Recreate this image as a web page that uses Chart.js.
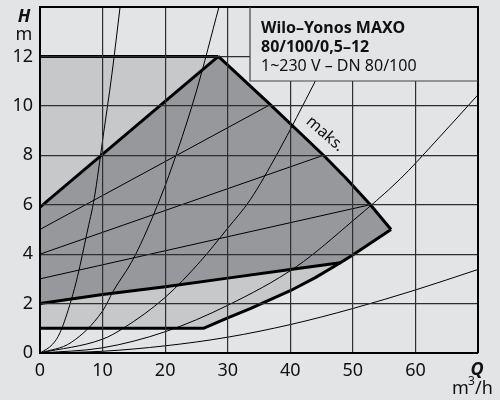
<!DOCTYPE html>
<html>
<head>
<meta charset="utf-8">
<script src="https://cdn.jsdelivr.net/npm/chart.js@4.4.0/dist/chart.umd.min.js"></script>
<style>
  html, body { margin: 0; padding: 0; background: #e3e4e6; }
  canvas { background: #e3e4e6; display: block; }
</style>
</head>
<body>
<canvas id="pumpChart" width="500" height="400"></canvas>
<script>
// Kennlinie Wilo-Yonos MAXO 80/100/0,5-12
const FONT = 'Noto Sans';
const BG = '#e3e4e6';
const GRID = '#2e2e2e';

// Achsenteilung
const Q_TICKS = [0, 10, 20, 30, 40, 50, 60];
const H_TICKS = [0, 2, 4, 6, 8, 10, 12];
const Q_MAX = 70;
const H_MAX = 14;

// Q in m³/h, H in m
const maxQ = [28.5, 36.8, 45.3, 48.8, 52.8, 56.1];
const maxH = [12, 10.05, 8.0, 7.1, 6.0, 5.0];
const lowQ = [56.1, 50.1, 48, 44, 40, 36, 33.6, 30, 26.1, 0];
const lowH = [5.0, 3.99, 3.65, 3.05, 2.52, 2.07, 1.8, 1.42, 1.0, 1.0];
const topQ = [0, 28.5];
const topH = [5.9, 12];
const ceilQ = [0, 28.5];
const ceilH = [12, 12];
const minQ = [48, 40, 30, 20, 10, 0];
const minH = [3.65, 3.38, 3.03, 2.68, 2.37, 2.0];

// Regelkennlinien (duenn)
const ctrl1Q = [0, 36.8];
const ctrl1H = [5.0, 10.05];
const ctrl2Q = [0, 45.3];
const ctrl2H = [4.0, 8.0];
const ctrl3Q = [0, 52.8];
const ctrl3H = [3.0, 6.0];

// Anlagenkennlinien
const sys1Q = [0, 2, 3.2, 5, 6, 7.5, 8.7, 10, 11.5, 12.8];
const sys1H = [0, 0.35, 0.82, 2.15, 3.1, 4.85, 6.3, 8.6, 11.3, 14];
const sys2Q = [0, 5, 10, 11.7, 15, 19.2, 22, 25, 28.6];
const sys2H = [0, 0.43, 1.7, 2.5, 3.85, 6.25, 8.2, 10.6, 14];
const sys3Q = [0, 10, 13.3, 20, 25.6, 30, 33.6, 38, 44, 50];
const sys3H = [0, 0.56, 1.0, 2.25, 3.7, 5.05, 6.2, 8.1, 11.0, 14];
const sys4Q = [0, 10, 20, 30, 41, 50, 57.6, 63, 70];
const sys4H = [0, 0.21, 0.86, 1.93, 3.5, 5.35, 7.05, 8.5, 10.45];
const sys5Q = [0, 10, 20, 30, 40, 50, 60, 70];
const sys5H = [0, 0.07, 0.29, 0.64, 1.15, 1.8, 2.55, 3.38];

function pts(qs, hs) {
  return qs.map((q, i) => ({ x: q, y: hs[i] }));
}

// Flaechen
const envelope = [{ x: 0, y: 1 }].concat(pts(ceilQ, ceilH), pts(maxQ.slice(1), maxH.slice(1)), pts(lowQ.slice(1), lowH.slice(1)));
const darkArea = pts(topQ, topH).concat(pts(maxQ.slice(1), maxH.slice(1)), pts(lowQ.slice(1, 3), lowH.slice(1, 3)), pts(minQ.slice(1), minH.slice(1)));

function area(data, color, order) {
  return { data: data, showLine: true, fill: 'shape', backgroundColor: color, borderWidth: 0, pointRadius: 0, order: order };
}
function line(data, width, order, smooth, color) {
  return {
    data: data, showLine: true, fill: false, borderColor: color || '#000', borderWidth: width,
    pointRadius: 0, order: order, cubicInterpolationMode: smooth ? 'monotone' : 'default',
    borderJoinStyle: 'round'
  };
}

// Beschriftungen
const labels = {
  id: 'pumpLabels',
  afterDraw(chart) {
    const c = chart.ctx;
    const a = chart.chartArea;
    c.save();

    // oberer und rechter Rahmen
    c.strokeStyle = '#000';
    c.lineWidth = 2;
    c.beginPath();
    c.moveTo(a.left, a.top);
    c.lineTo(a.right, a.top);
    c.lineTo(a.right, a.bottom);
    c.stroke();

    // Beschriftungskasten
    c.fillStyle = BG;
    c.fillRect(250, a.top + 1, a.right - 251, 73);
    c.strokeStyle = '#444';
    c.lineWidth = 1.2;
    c.beginPath();
    c.moveTo(250, a.top);
    c.lineTo(250, a.top + 74);
    c.lineTo(a.right, a.top + 74);
    c.stroke();

    c.fillStyle = '#111';
    c.textAlign = 'left';
    c.textBaseline = 'alphabetic';
    c.font = 'bold 16px "' + FONT + '"';
    c.fillText('Wilo–Yonos MAXO', 261, 33);
    c.fillText('80/100/0,5–12', 261, 52);
    c.font = '16px "' + FONT + '"';
    c.fillText('1~230 V – DN 80/100', 261, 71);

    // maks.
    c.save();
    c.translate(325, 134);
    c.rotate(41 * Math.PI / 180);
    c.textAlign = 'center';
    c.textBaseline = 'middle';
    c.font = '16px "' + FONT + '"';
    c.fillText('maks.', 0, 0);
    c.restore();

    // Achsentitel
    c.textAlign = 'center';
    c.font = 'italic bold 18px "' + FONT + '"';
    c.fillText('H', 24, 22);
    c.fillText('Q', 477, 375);
    c.font = '18px "' + FONT + '"';
    c.fillText('m', 24, 40);
    c.textAlign = 'left';
    c.fillText('m', 452, 394);
    c.font = '12px "' + FONT + '"';
    c.fillText('3', 468, 385);
    c.font = '18px "' + FONT + '"';
    c.fillText('/h', 475, 394);
    c.restore();
  }
};

new Chart(document.getElementById('pumpChart'), {
  type: 'scatter',
  data: {
    datasets: [
      area(envelope, '#c7c8ca', 20),
      area(darkArea, '#97989b', 19),
      line(pts(sys1Q, sys1H), 1, 10, true),
      line(pts(sys2Q, sys2H), 1, 10, true),
      line(pts(sys3Q, sys3H), 1, 10, true),
      line(pts(sys4Q, sys4H), 1, 10, true),
      line(pts(sys5Q, sys5H), 1, 10, true),
      line(pts(ctrl1Q, ctrl1H), 1, 9, false),
      line(pts(ctrl2Q, ctrl2H), 1, 9, false),
      line(pts(ctrl3Q, ctrl3H), 1, 9, false),
      line(pts(ceilQ, ceilH), 3, 1, false),
      line(pts(topQ, topH), 3, 1, false),
      line(pts(maxQ, maxH), 3, 1, false),
      line(pts(lowQ, lowH), 3, 1, false),
      line(pts(minQ, minH), 3, 1, false)
    ]
  },
  options: {
    responsive: false,
    animation: false,
    layout: { padding: { top: 7, right: 22, left: 0, bottom: 0 } },
    plugins: { legend: { display: false }, tooltip: { enabled: false } },
    scales: {
      x: {
        type: 'linear', min: 0, max: Q_MAX,
        ticks: {
          stepSize: 10, autoSkip: false, maxRotation: 0, padding: 7,
          color: '#111', font: { family: FONT, size: 18 },
          callback: v => (Q_TICKS.includes(v) ? String(v) : null)
        },
        grid: { color: GRID, lineWidth: 1.2, drawTicks: false, z: 1 },
        border: { display: true, color: '#000', width: 2, z: 2 },
        afterFit: s => { s.height = 47; s.paddingLeft = 0; s.paddingRight = 0; }
      },
      y: {
        type: 'linear', min: 0, max: H_MAX,
        ticks: {
          stepSize: 2, autoSkip: false, padding: 7,
          color: '#111', font: { family: FONT, size: 18 },
          callback: v => (H_TICKS.includes(v) ? String(v) : null)
        },
        grid: { color: GRID, lineWidth: 1.2, drawTicks: false, z: 1 },
        border: { display: true, color: '#000', width: 2, z: 2 },
        afterFit: s => { s.width = 40; s.paddingTop = 0; s.paddingBottom = 0; }
      }
    }
  },
  plugins: [labels]
});
</script>
</body>
</html>
